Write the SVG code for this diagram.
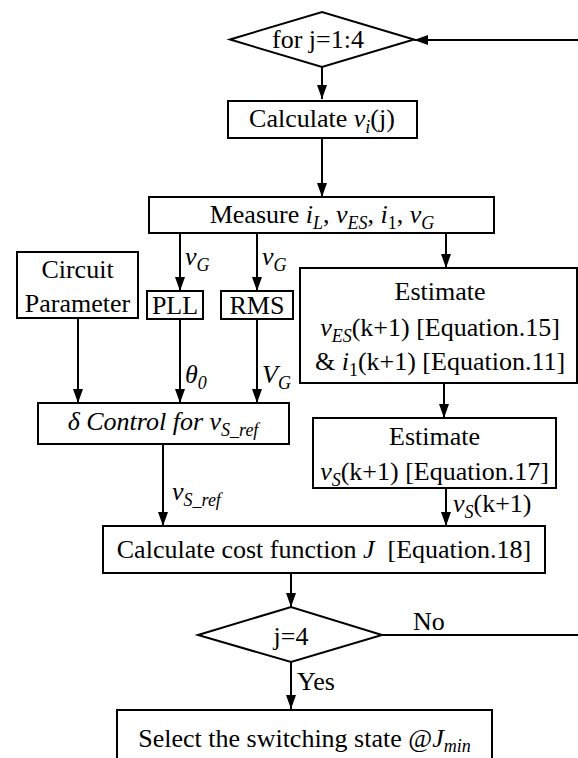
<svg xmlns="http://www.w3.org/2000/svg" width="578" height="758" viewBox="0 0 578 758" font-family="'Liberation Serif', 'DejaVu Serif', serif">
<defs>
<marker id="ah" viewBox="0 0 14 10" refX="14" refY="5" markerWidth="14" markerHeight="10" markerUnits="userSpaceOnUse" orient="auto">
<path d="M0,0 L14,5 L0,10 Z" fill="#000"/>
</marker>
</defs>
<style>
.box{fill:#fff;stroke:#000;stroke-width:2}
.ln{fill:none;stroke:#000;stroke-width:2}
.ar{fill:none;stroke:#000;stroke-width:2;marker-end:url(#ah)}
text{font-family:'Liberation Serif','DejaVu Serif',serif;font-size:26px;fill:#000}
.c{text-anchor:middle}
.i{font-style:italic}
.s{font-size:18px}
</style>
<rect width="578" height="758" fill="#fff"/>
<g id="connectors">
<path class="ar" d="M578,40 L414,40"/>
<path class="ar" d="M322,67 L322,99"/>
<path class="ar" d="M322,138 L322,197"/>
<path class="ar" d="M180,233 L180,291"/>
<path class="ar" d="M257,233 L257,291"/>
<path class="ar" d="M446,233 L446,268"/>
<path class="ar" d="M78,318 L78,403"/>
<path class="ar" d="M180,319 L180,403"/>
<path class="ar" d="M257,319 L257,403"/>
<path class="ar" d="M163,444 L163,526"/>
<path class="ar" d="M444,383 L444,418"/>
<path class="ar" d="M446,488 L446,526"/>
<path class="ar" d="M291,573 L291,607"/>
<path class="ln" d="M382,635 L578,635"/>
<path class="ar" d="M291,662 L291,709"/>
<text x="185" y="265" class="i">v<tspan class="s" dy="6">G</tspan></text>
<text x="262" y="265" class="i">v<tspan class="s" dy="6">G</tspan></text>
<text x="185" y="383" class="i">θ<tspan class="s" dy="6">0</tspan></text>
<text x="262" y="383" class="i">V<tspan class="s" dy="6">G</tspan></text>
<text x="172" y="500" class="i">v<tspan class="s" dy="6">S_ref</tspan></text>
<text x="453" y="512"><tspan class="i">v</tspan><tspan class="s i" dy="6">S</tspan><tspan dy="-6">(k+1)</tspan></text>
<text x="413" y="630">No</text>
<text x="297" y="690">Yes</text>
</g>
<g id="loop">
<polygon class="box" points="230,39.5 322,12 414,39.5 322,67"/>
<text x="318" y="48" class="c">for j=1:4</text>
</g>
<g id="calc-vi">
<rect class="box" x="228" y="101" width="189" height="37"/>
<text x="322" y="127" class="c">Calculate <tspan class="i">v</tspan><tspan class="s i" dy="6">i</tspan><tspan dy="-6">(j)</tspan></text>
</g>
<g id="measure">
<rect class="box" x="149" y="197" width="345" height="36"/>
<text x="322" y="223" class="c">Measure <tspan class="i">i</tspan><tspan class="s i" dy="6">L</tspan><tspan dy="-6">, </tspan><tspan class="i">v</tspan><tspan class="s i" dy="6">ES</tspan><tspan dy="-6">, </tspan><tspan class="i">i</tspan><tspan class="s" dy="6">1</tspan><tspan dy="-6">, </tspan><tspan class="i">v</tspan><tspan class="s i" dy="6">G</tspan></text>
</g>
<g id="circuit">
<rect class="box" x="17" y="252" width="121" height="66"/>
<text x="77.5" y="278" class="c">Circuit</text>
<text x="77.5" y="312" class="c">Parameter</text>
</g>
<g id="pll">
<rect class="box" x="147" y="291" width="56" height="28"/>
<text x="175" y="314" class="c">PLL</text>
</g>
<g id="rms">
<rect class="box" x="221" y="291" width="72" height="28"/>
<text x="257" y="314" class="c">RMS</text>
</g>
<g id="estimate1">
<rect class="box" x="300" y="268" width="277" height="115"/>
<text x="440" y="300" class="c">Estimate</text>
<text x="440" y="336" class="c"><tspan class="i">v</tspan><tspan class="s i" dy="6">ES</tspan><tspan dy="-6">(k+1) [Equation.15]</tspan></text>
<text x="440" y="370" class="c">&amp; <tspan class="i">i</tspan><tspan class="s" dy="6">1</tspan><tspan dy="-6">(k+1) [Equation.11]</tspan></text>
</g>
<g id="delta">
<rect class="box" x="38" y="403" width="251" height="41"/>
<text x="163" y="430" class="c i">δ Control for v<tspan class="s" dy="6">S_ref</tspan></text>
</g>
<g id="estimate2">
<rect class="box" x="313" y="418" width="243" height="70"/>
<text x="434.5" y="445" class="c">Estimate</text>
<text x="434.5" y="480" class="c"><tspan class="i">v</tspan><tspan class="s i" dy="6">S</tspan><tspan dy="-6">(k+1) [Equation.17]</tspan></text>
</g>
<g id="cost">
<rect class="box" x="103" y="526" width="442" height="47"/>
<text x="324" y="558" class="c">Calculate cost function <tspan class="i">J</tspan>&#160; [Equation.18]</text>
</g>
<g id="check">
<polygon class="box" points="198,635 291,607 382,635 291,662"/>
<text x="291" y="645" class="c">j=4</text>
</g>
<g id="select">
<rect class="box" x="117" y="710" width="375" height="60"/>
<text x="304.5" y="747" class="c">Select the switching state @<tspan class="i">J</tspan><tspan class="s i" dy="5">min</tspan></text>
</g>
</svg>
